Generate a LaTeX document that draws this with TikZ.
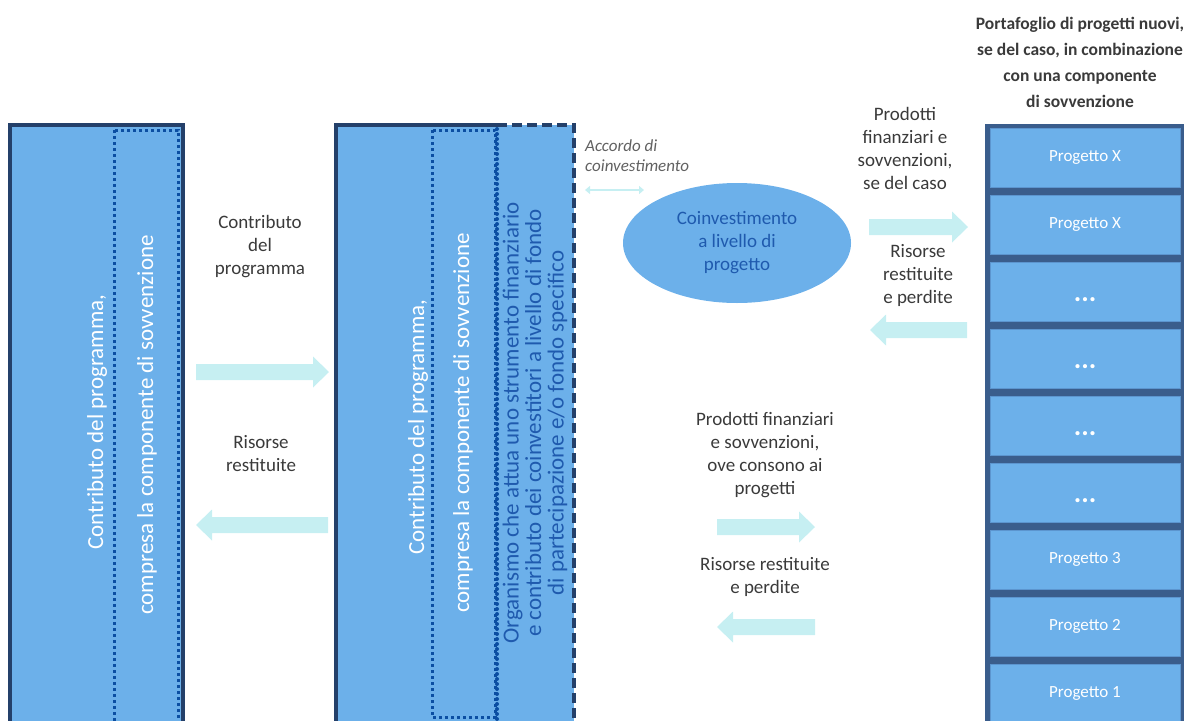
\documentclass[tikz,border=0pt]{standalone}
\usepackage{fontspec}
\setmainfont{Carlito}
\usetikzlibrary{shapes.geometric,arrows.meta}
\definecolor{boxblue}{HTML}{6CB0EA}
\definecolor{navy}{HTML}{24406A}
\definecolor{dotblue}{HTML}{0B4EA2}
\definecolor{colnavy}{HTML}{3A5D8C}
\definecolor{projedge}{HTML}{5C95CF}
\definecolor{arrowcyan}{HTML}{C6EFF2}
\definecolor{txtgray}{HTML}{3A3A3A}
\definecolor{txtblue}{HTML}{1F5AAE}
\newcommand{\arrowR}[3]{\fill[arrowcyan] (#1,#3-8) -- (#2-16,#3-8) -- (#2-16,#3-15.5) -- (#2,#3) -- (#2-16,#3+15.5) -- (#2-16,#3+8) -- (#1,#3+8) -- cycle;}
\newcommand{\arrowL}[3]{\fill[arrowcyan] (#2,#3-8) -- (#1+16,#3-8) -- (#1+16,#3-15.5) -- (#1,#3) -- (#1+16,#3+15.5) -- (#1+16,#3+8) -- (#2,#3+8) -- cycle;}
\begin{document}
\begin{tikzpicture}[x=1pt,y=-1pt,
  lbl/.style={text=txtgray, align=center, font=\fontsize{19}{23}\selectfont, inner sep=0},
  hdr/.style={text=txtgray, align=center, font=\fontsize{17.5}{26}\selectfont\bfseries, inner sep=0},
  acc/.style={text=txtgray!80, align=left, font=\fontsize{17}{20}\selectfont\itshape, inner sep=0},
  vwhite/.style={text=white, rotate=90, align=center, font=\fontsize{23}{25}\selectfont, inner sep=0},
  vblue/.style={text=txtblue, rotate=90, align=center, font=\fontsize{23}{22.5}\selectfont, inner sep=0},
  dotline/.style={dotblue, line width=3, dash pattern=on 3 off 3},
  rounddot/.style={dotblue, line width=4, line cap=round, dash pattern=on 0 off 5},
  dashline/.style={navy, line width=3.5, dash pattern=on 10 off 5},
  border/.style={navy, line width=3.5},
  projbox/.style={fill=boxblue, draw=projedge, line width=0.8, minimum width=190, minimum height=59, text=white, font=\fontsize{17}{20}\selectfont, inner sep=0},
  dotstext/.style={text=white, font=\fontsize{28}{28}\selectfont\bfseries, inner sep=0},
  ell/.style={ellipse, fill=boxblue, minimum width=228, minimum height=120, text=txtblue, align=center, font=\fontsize{19}{23}\selectfont, inner sep=0}
]
\useasboundingbox (0,0) rectangle (1193,720);
\clip (0,0) rectangle (1193,720);
% left box
\fill[boxblue] (10,125) rectangle (183,740);
\draw[border] (10,740) -- (10,125) -- (183,125) -- (183,740);
\draw[dotline] (114,130) rectangle (178,740);
\node[vwhite] (lt1) at (97,422) {Contributo del programma,};
\node[vwhite] (lt2) at (147,425) {compresa la componente di sovvenzione};
% middle box
\fill[boxblue] (336,125) rectangle (574,740);
\draw[border] (336,740) -- (336,125) -- (497,125);
\draw[dashline] (497,125) -- (574,125) -- (574,740);
\draw[dotline] (432,130) rectangle (495,717);
\draw[rounddot] (497,129) -- (497,740);
\node[vwhite] (mt1) at (418,427) {Contributo del programma,};
\node[vwhite] (mt2) at (463,423) {compresa la componente di sovvenzione};
\node[vblue] (org) at (535,423) {Organismo che attua uno strumento finanziario\\e contributo dei coinvestitori a livello di fondo\\di partecipazione e/o fondo specifico};
% ellipse
\node[ell] (coinv) at (737,243) {Coinvestimento\\a livello di\\progetto};
% right column
\fill[colnavy] (985,124) rectangle (1184,740);
\foreach \i/\t in {0/Progetto X,1/Progetto X,2/{},3/{},4/{},5/{},6/Progetto 3,7/Progetto 2,8/Progetto 1}{
  \pgfmathsetmacro{\yy}{128+67*\i+29.5}
  \node[projbox] (p\i) at (1085,\yy) {\t};
}
\foreach \i in {2,3,4,5}{
  \node[dotstext] (d\i) at ([yshift=-8pt]p\i.center) {...};
}
% header and labels
\node[hdr] (head) at (1080,62) {Portafoglio di progetti nuovi,\\se del caso, in combinazione\\con una componente\\di sovvenzione};
\node[lbl] (contrib) at (260,247) {Contributo\\del\\programma};
\node[lbl] (ris1) at (261,454) {Risorse\\restituite};
\node[lbl] (prod1) at (905,148) {Prodotti\\finanziari e\\sovvenzioni,\\se del caso};
\node[lbl] (ris2) at (918,275) {Risorse\\restituite\\e perdite};
\node[lbl] (prod2) at (765,455) {Prodotti finanziari\\e sovvenzioni,\\ove consono ai\\progetti};
\node[lbl] (ris3) at (765,577) {Risorse restituite\\e perdite};
\node[acc, anchor=west] (accordo) at (585,156) {Accordo di\\coinvestimento};
% arrows
\arrowR{196}{329}{372}
\arrowL{196}{328}{525}
\arrowR{869}{968}{227}
\arrowL{870}{967}{330}
\arrowR{717}{815}{527}
\arrowL{717}{815}{627}
\coordinate (da1) at (585,190);
\coordinate (da2) at (644,190);
\draw[arrowcyan, line width=2.5, {Triangle[width=8,length=5]}-{Triangle[width=8,length=5]}] (da1) -- (da2);
\end{tikzpicture}
\end{document}
